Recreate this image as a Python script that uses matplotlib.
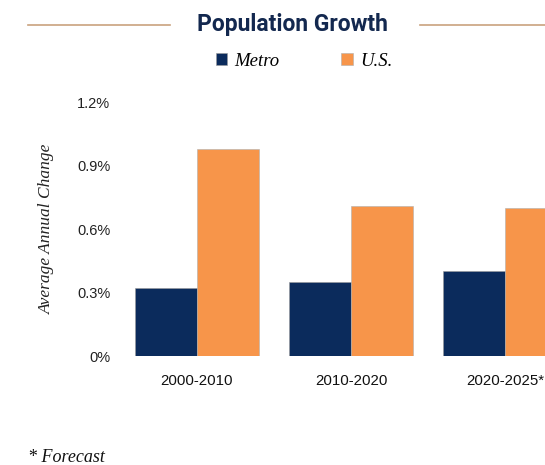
import matplotlib.pyplot as plt
import numpy as np

# Average annual population change, percent
periods = ["2000-2010", "2010-2020", "2020-2025*"]
metro = [0.32, 0.35, 0.40]
us = [0.98, 0.71, 0.70]
yticks = [0, 0.3, 0.6, 0.9, 1.2]
ytick_labels = ["0%", "0.3%", "0.6%", "0.9%", "1.2%"]

navy = "#0b2b5c"
orange = "#f7954a"
tan = "#c9a27e"

fig = plt.figure(figsize=(5.45, 4.65), dpi=100)
ax = fig.add_axes([120 / 545, 0.2344, 425 / 545, 0.5462])

x = np.arange(len(periods))
w = 0.4
ax.bar(x - w / 2, metro, width=w, color=navy, edgecolor="#9a9a9a", linewidth=0.4, label="Metro")
ax.bar(x + w / 2, us, width=w, color=orange, edgecolor="#b0b0b0", linewidth=0.4, label="U.S.")

ax.set_xlim(-0.5, 2.26)
ax.set_ylim(0, 1.2)
ax.set_yticks(yticks, ytick_labels)
ax.set_xticks(x, periods)
for s in ax.spines.values():
    s.set_visible(False)
ax.tick_params(length=0)
ax.tick_params(axis="y", pad=7, labelsize=10.5, labelcolor="#222222")
ax.tick_params(axis="x", pad=13, labelsize=10.8, labelcolor="#111111")
for lab in ax.get_yticklabels() + ax.get_xticklabels():
    lab.set_family("Liberation Sans")

ax.set_ylabel("Average Annual Change", family="Liberation Serif", style="italic",
              fontsize=12.5, color="#222222", labelpad=16)

# title with rules on either side
fig.text(292 / 545, 1 - 25 / 465, "Population Growth", ha="center", va="center",
         fontsize=16.5, fontweight="bold", family="Roboto", color="#13284f")
fig.add_artist(plt.Line2D([28 / 545, 170 / 545], [1 - 25 / 465] * 2, color=tan, lw=1.2))
fig.add_artist(plt.Line2D([420 / 545, 1.0], [1 - 25 / 465] * 2, color=tan, lw=1.2))

leg = fig.legend(loc="center", bbox_to_anchor=(304 / 545, 1 - 61 / 465), ncol=2,
                 frameon=False, handlelength=0.6, handleheight=0.6, columnspacing=3.3,
                 handletextpad=0.4, prop={"family": "Liberation Serif", "style": "italic", "size": 13.5})

fig.text(28 / 545, 1 - 457 / 465, "* Forecast", ha="left", va="center",
         family="Liberation Serif", style="italic", fontsize=13, color="#111111")

fig.savefig("out.png", dpi=100)
